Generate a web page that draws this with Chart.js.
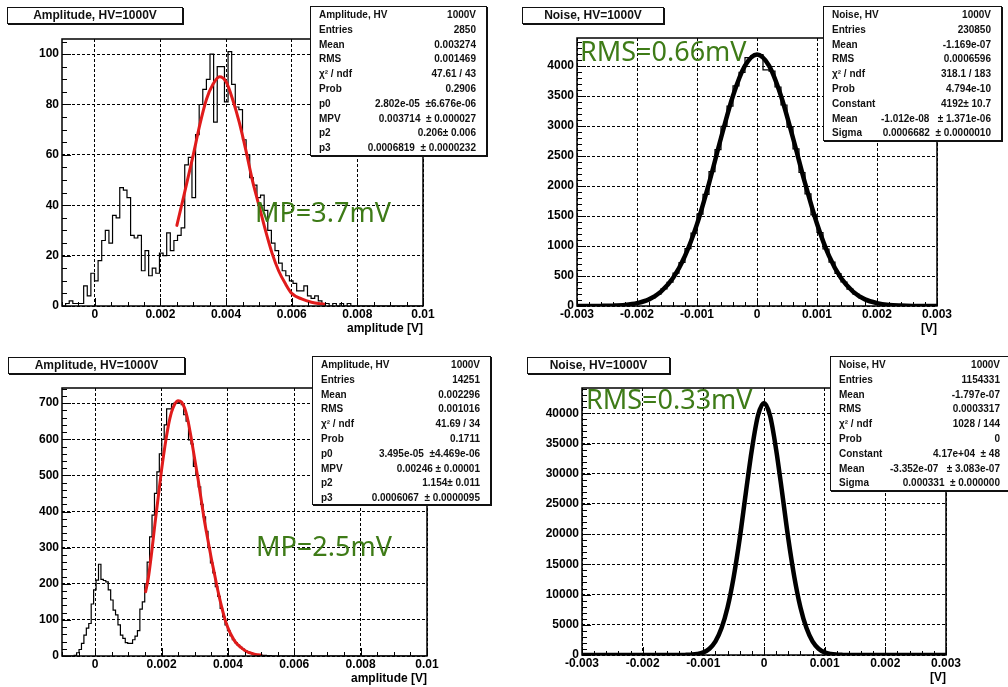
<!DOCTYPE html>
<html>
<head>
<meta charset="utf-8">
<title>Amplitude and noise spectra, HV=1000V</title>
<script src="https://cdn.jsdelivr.net/npm/chart.js@4.4.1/dist/chart.umd.min.js"></script>
<style>
  html, body { margin: 0; padding: 0; background: #fff; }
  #page { position: relative; width: 1008px; height: 687px; overflow: hidden; background: #fff; }
  canvas.panel { position: absolute; }
  .title {
    position: absolute; box-sizing: border-box; background: #fff;
    border: 1px solid #111; box-shadow: 1px 1px 0 #111;
    font: bold 12px "Liberation Sans", Arial, sans-serif; color: #111;
    text-align: center; line-height: 14px;
  }
  .stats {
    position: absolute; box-sizing: border-box; background: #fff;
    border: 1px solid #111; box-shadow: 1px 1px 0 #111;
    font: bold 10px "Liberation Sans", Arial, sans-serif; color: #111;
    padding: 1px 10px 0 8px;
  }
  .stats .row { display: flex; justify-content: space-between; height: 14.8px; line-height: 14.8px; white-space: pre; }
</style>
</head>
<body>
<div id="page"></div>
<script>
// ---------- amplitude spectrum, first run (100 bins from -0.001 to 0.01 V) ----------
const ampTopRange = [-0.001, 0.01];
const ampTopCounts = [
  0, 1, 2, 1, 1, 1, 8, 4, 13, 10,
  18, 26, 30, 25, 36, 35, 47, 46, 43, 28,
  27, 28, 14, 22, 12, 15, 13, 21, 20, 29,
  22, 26, 28, 31, 56, 59, 43, 68, 80, 86,
  90, 100, 73, 95, 95, 81, 101, 88, 79, 78,
  66, 60, 51, 48, 43, 44, 38, 30, 25, 22,
  17, 14, 12, 10, 9, 6, 6, 8, 4, 3,
  4, 2, 1, 1, 0, 1, 0, 1, 0, 1,
  0, 0, 0, 0, 0, 0, 0, 0, 0, 0,
  0, 0, 0, 0, 0, 0, 0, 0, 0, 0
];
const ampTopFitX = [0.0025, 0.0027, 0.0030, 0.0032, 0.0034, 0.0036, 0.0038, 0.0040, 0.0042, 0.0044, 0.0046,
                    0.0048, 0.0050, 0.0052, 0.0054, 0.0056, 0.0058, 0.0060, 0.0063, 0.0066, 0.0070];
const ampTopFitY = [32, 43, 60, 72, 82, 88, 91, 89, 82, 73, 62,
                    50, 40, 30, 21, 14, 9, 5, 2.8, 1.5, 0.7];

// ---------- amplitude spectrum, second run (150 bins from -0.001 to 0.01 V) ----------
const ampBotRange = [-0.001, 0.01];
const ampBotCounts = [
  0, 0, 0, 0, 0, 2, 9, 18, 35, 58,
  77, 90, 144, 183, 210, 254, 212, 209, 205, 183,
  155, 127, 114, 86, 58, 49, 37, 35, 35, 45,
  55, 70, 130, 150, 200, 260, 330, 390, 450, 510,
  560, 600, 640, 684, 684, 698, 700, 700, 702, 696,
  668, 650, 598, 587, 525, 500, 468, 420, 385, 345,
  300, 258, 230, 192, 165, 132, 108, 86, 70, 56,
  45, 37, 30, 24, 19, 15, 11, 8, 6, 4,
  3, 3, 2, 2, 1, 1, 0, 0, 0, 0,
  0, 0, 0, 0, 0, 0, 0, 0, 0, 0,
  0, 0, 0, 0, 0, 0, 0, 0, 0, 0,
  0, 0, 0, 0, 0, 0, 0, 0, 0, 0,
  0, 0, 0, 0, 0, 0, 0, 0, 0, 0,
  0, 0, 0, 0, 0, 0, 0, 0, 0, 0,
  0, 0, 0, 0, 0, 0, 0, 0, 0, 0
];
const ampBotFitX = [0.00152, 0.0016, 0.0017, 0.0018, 0.0019, 0.0020, 0.0021, 0.0022, 0.0023, 0.0024, 0.0025,
                    0.0026, 0.0027, 0.0028, 0.0029, 0.0030, 0.0031, 0.0032, 0.0033, 0.0034, 0.0035,
                    0.0036, 0.0037, 0.0038, 0.0039, 0.0040, 0.0041, 0.0042, 0.0043, 0.0044, 0.0045,
                    0.0046, 0.0047, 0.0048, 0.0049, 0.0050];
const ampBotFitY = [178, 215, 285, 365, 440, 515, 580, 635, 675, 698, 707,
                    703, 685, 650, 600, 545, 490, 430, 370, 320, 270,
                    225, 180, 140, 105, 78, 58, 42, 31, 23, 16,
                    11, 8, 5, 3.5, 2.5];

// ---------- noise spectrum, first run (60 bins from -0.003 to 0.003 V) ----------
const noiseTopRange = [-0.003, 0.003];
const noiseTopCounts = [
  0, 0, 1, 1, 3, 5, 8, 14, 24, 37,
  60, 90, 137, 196, 286, 396, 548, 725, 957, 1215,
  1530, 1862, 2240, 2605, 2995, 3330, 3670, 3895, 4140, 4175,
  4190, 3935, 3915, 3650, 3350, 2980, 2620, 2225, 1870, 1520,
  1225, 950, 730, 542, 400, 282, 199, 135, 92, 58,
  38, 23, 14, 8, 5, 2, 1, 1, 0, 0
];
const noiseTopFitX = [-0.003, -0.0028, -0.0026, -0.0024, -0.0022, -0.002, -0.0018, -0.0016, -0.0014, -0.0012, -0.001,
                      -0.0008, -0.0006, -0.0004, -0.0002, 0, 0.0002, 0.0004, 0.0006, 0.0008, 0.001,
                      0.0012, 0.0014, 0.0016, 0.0018, 0.002, 0.0022, 0.0024, 0.0026, 0.0028, 0.003];
const noiseTopFitY = [0, 1, 2, 6, 18, 47, 110, 240, 465, 835, 1365,
                      2045, 2800, 3505, 4005, 4192, 4005, 3500, 2800, 2050, 1370,
                      835, 465, 240, 110, 48, 18, 7, 2, 1, 0];

// ---------- noise spectrum, second run ----------
const noiseBotFitX = [-0.003, -0.0016, -0.0014, -0.0013, -0.0012, -0.0011, -0.001, -0.0009, -0.0008, -0.0007, -0.0006,
                      -0.0005, -0.0004, -0.0003, -0.0002, -0.0001, 0, 0.0001, 0.0002, 0.0003, 0.0004,
                      0.0005, 0.0006, 0.0007, 0.0008, 0.0009, 0.001, 0.0011, 0.0012, 0.0013, 0.0014,
                      0.0016, 0.003];
const noiseBotFitY = [0, 0, 5, 19, 58, 165, 430, 1040, 2250, 4450, 7900,
                      12900, 19300, 26800, 34000, 39600, 41700, 39600, 34000, 26800, 19300,
                      12900, 7900, 4450, 2250, 1040, 430, 165, 58, 19, 5,
                      0, 0];

// ---------- axis ticks and labels ----------
const ampXTicks = [0, 0.002, 0.004, 0.006, 0.008, 0.01];
const ampXLabels = ['0', '0.002', '0.004', '0.006', '0.008', '0.01'];
const noiseXTicks = [-0.003, -0.002, -0.001, 0, 0.001, 0.002, 0.003];
const noiseXLabels = ['-0.003', '-0.002', '-0.001', '0', '0.001', '0.002', '0.003'];
const ampTopYTicks = [0, 20, 40, 60, 80, 100];
const ampBotYTicks = [0, 100, 200, 300, 400, 500, 600, 700];
const noiseTopYTicks = [0, 500, 1000, 1500, 2000, 2500, 3000, 3500, 4000];
const noiseBotYTicks = [0, 5000, 10000, 15000, 20000, 25000, 30000, 35000, 40000];

// ---------- titles, annotations and statistics boxes ----------
const ampTitle = 'Amplitude, HV=1000V';
const noiseTitle = 'Noise, HV=1000V';
const ampXTitle = 'amplitude [V]';
const noiseXTitle = '[V]';
const annotations = ['MP=3.7mV', 'RMS=0.66mV', 'MP=2.5mV', 'RMS=0.33mV'];

const statsAmpTop = [
  ['Amplitude, HV', '1000V'], ['Entries', '2850'], ['Mean', '0.003274'], ['RMS', '0.001469'],
  ['\u03c7\u00b2 / ndf', '47.61 / 43'], ['Prob', '0.2906'], ['p0', '2.802e-05  \u00b16.676e-06'],
  ['MPV', '0.003714  \u00b1 0.000027'], ['p2', '0.206\u00b1 0.006'], ['p3', '0.0006819  \u00b1 0.0000232']
];
const statsNoiseTop = [
  ['Noise, HV', '1000V'], ['Entries', '230850'], ['Mean', '-1.169e-07'], ['RMS', '0.0006596'],
  ['\u03c7\u00b2 / ndf', '318.1 / 183'], ['Prob', '4.794e-10'], ['Constant', '4192\u00b1 10.7'],
  ['Mean', '-1.012e-08   \u00b1 1.371e-06'], ['Sigma', '0.0006682  \u00b1 0.0000010']
];
const statsAmpBot = [
  ['Amplitude, HV', '1000V'], ['Entries', '14251'], ['Mean', '0.002296'], ['RMS', '0.001016'],
  ['\u03c7\u00b2 / ndf', '41.69 / 34'], ['Prob', '0.1711'], ['p0', '3.495e-05  \u00b14.469e-06'],
  ['MPV', '0.00246 \u00b1 0.00001'], ['p2', '1.154\u00b1 0.011'], ['p3', '0.0006067  \u00b1 0.0000095']
];
const statsNoiseBot = [
  ['Noise, HV', '1000V'], ['Entries', '1154331'], ['Mean', '-1.797e-07'], ['RMS', '0.0003317'],
  ['\u03c7\u00b2 / ndf', '1028 / 144'], ['Prob', '0'], ['Constant', '4.17e+04  \u00b1 48'],
  ['Mean', '-3.352e-07   \u00b1 3.083e-07'], ['Sigma', '0.000331  \u00b1 0.000000']
];

// ---------- helpers ----------
const page = document.getElementById('page');
const TICK_FONT = { family: '"Liberation Sans", Arial, sans-serif', size: 12, weight: 'bold' };
const XAXIS_H = 30;

// outline of a fixed-width-bin histogram
function histOutline(counts, range) {
  const w = (range[1] - range[0]) / counts.length;
  const pts = [];
  counts.forEach((c, i) => {
    pts.push({ x: range[0] + i * w, y: c });
    pts.push({ x: range[0] + (i + 1) * w, y: c });
  });
  return pts;
}
function zip(xs, ys) { return xs.map((x, i) => ({ x: x, y: ys[i] })); }

function histDataset(points) {
  return { data: points, borderColor: '#000', borderWidth: 1.2, pointRadius: 0, tension: 0, fill: false };
}
function fitDataset(points, color, width) {
  return { data: points, borderColor: color, borderWidth: width, pointRadius: 0,
           cubicInterpolationMode: 'monotone', fill: false, borderCapStyle: 'round', borderJoinStyle: 'round' };
}

// frame, inner tick marks and the green annotation, drawn over the datasets
const rootFrame = {
  id: 'rootFrame',
  afterDatasetsDraw(chart, args, o) {
    const { ctx, chartArea: a, scales: { x, y } } = chart;
    ctx.save();
    ctx.strokeStyle = '#000';
    ctx.lineWidth = 1;
    ctx.beginPath();
    const isMajor = (list, v, step) => list.some(t => Math.abs(t - v) < step * 1e-3);
    const nx = Math.round((x.max - o.xStart) / o.xMinor);
    for (let k = 0; k <= nx; k++) {
      const v = o.xStart + k * o.xMinor;
      const px = Math.round(x.getPixelForValue(v)) + 0.5;
      const len = isMajor(o.xTicks, v, o.xMinor) ? 8 : 4;
      ctx.moveTo(px, a.bottom);
      ctx.lineTo(px, a.bottom - len);
    }
    const ny = Math.floor((y.max - 0) / o.yMinor + 1e-6);
    for (let k = 0; k <= ny; k++) {
      const v = k * o.yMinor;
      const py = Math.round(y.getPixelForValue(v)) + 0.5;
      const len = isMajor(o.yTicks, v, o.yMinor) ? 9 : 5;
      ctx.moveTo(a.left, py);
      ctx.lineTo(a.left + len, py);
    }
    ctx.stroke();
    ctx.lineWidth = 1.5;
    ctx.strokeRect(a.left, a.top, a.right - a.left, a.bottom - a.top);
    ctx.restore();
  },
  afterDraw(chart, args, o) {
    const ctx = chart.ctx;
    ctx.save();
    ctx.font = '27px "Noto Sans", "Open Sans", sans-serif';
    ctx.fillStyle = '#3e7b17';
    ctx.textBaseline = 'alphabetic';
    ctx.textAlign = 'left';
    ctx.fillText(o.note, o.noteX, o.noteY);
    ctx.restore();
  }
};

function makePanel(p) {
  const canvas = document.createElement('canvas');
  canvas.className = 'panel';
  canvas.width = p.cw; canvas.height = p.ch;
  canvas.style.left = p.cx + 'px'; canvas.style.top = p.cy + 'px';
  canvas.style.width = p.cw + 'px'; canvas.style.height = p.ch + 'px';
  page.appendChild(canvas);

  new Chart(canvas, {
    type: 'line',
    data: { datasets: p.datasets },
    options: {
      responsive: false, animation: false, devicePixelRatio: 1, events: [],
      layout: { padding: {
        left: 0,
        top: p.area.top - p.cy,
        right: p.cx + p.cw - p.area.right,
        bottom: p.cy + p.ch - p.area.bottom - XAXIS_H
      } },
      plugins: {
        legend: { display: false }, tooltip: { enabled: false },
        rootFrame: {
          xStart: p.xRange[0], xMinor: p.xMinor, xTicks: p.xTicks,
          yMinor: p.yMinor, yTicks: p.yTicks,
          note: p.note, noteX: p.noteAt[0] - p.cx, noteY: p.noteAt[1] - p.cy
        }
      },
      scales: {
        x: {
          type: 'linear', min: p.xRange[0], max: p.xRange[1],
          afterBuildTicks: s => { s.ticks = p.xTicks.map(v => ({ value: v })); },
          afterFit: s => { s.height = XAXIS_H; },
          ticks: { callback: (v, i) => p.xLabels[i], font: TICK_FONT, color: '#000', padding: 1,
                   maxRotation: 0, autoSkip: false },
          grid: { color: '#000', lineWidth: 1, drawTicks: false },
          border: { display: false, dash: [3, 2] },
          title: { display: true, text: p.xTitle, align: 'end', font: TICK_FONT, color: '#000',
                   padding: { top: 0, bottom: 0 } }
        },
        y: {
          type: 'linear', min: 0, max: p.yMax,
          afterBuildTicks: s => { s.ticks = p.yTicks.map(v => ({ value: v })); },
          afterFit: s => { s.width = p.area.left - p.cx; },
          ticks: { callback: v => String(v), font: TICK_FONT, color: '#000', padding: 3, autoSkip: false },
          grid: { color: '#000', lineWidth: 1, drawTicks: false },
          border: { display: false, dash: [3, 2] }
        }
      }
    },
    plugins: [rootFrame]
  });

  const t = document.createElement('div');
  t.className = 'title';
  t.textContent = p.title;
  Object.assign(t.style, { left: p.titleBox[0] + 'px', top: p.titleBox[1] + 'px',
                           width: p.titleBox[2] + 'px', height: p.titleBox[3] + 'px' });
  page.appendChild(t);

  const s = document.createElement('div');
  s.className = 'stats';
  Object.assign(s.style, { left: p.statsBox[0] + 'px', top: p.statsBox[1] + 'px',
                           width: p.statsBox[2] + 'px', height: p.statsBox[3] + 'px' });
  p.stats.forEach(r => {
    const row = document.createElement('div');
    row.className = 'row';
    const l = document.createElement('span'); l.textContent = r[0];
    const v = document.createElement('span'); v.textContent = r[1];
    row.appendChild(l); row.appendChild(v);
    s.appendChild(row);
  });
  page.appendChild(s);
}

makePanel({
  cx: 0, cy: 0, cw: 500, ch: 338, area: { left: 62, top: 39, right: 423, bottom: 306 },
  xRange: ampTopRange, xTicks: ampXTicks, xLabels: ampXLabels, xMinor: 0.0005, xTitle: ampXTitle,
  yMax: 106, yTicks: ampTopYTicks, yMinor: 5,
  datasets: [fitDataset(zip(ampTopFitX, ampTopFitY), '#e01b1b', 3), histDataset(histOutline(ampTopCounts, ampTopRange))],
  title: ampTitle, titleBox: [7, 7, 176, 17],
  stats: statsAmpTop, statsBox: [310, 6, 177, 150],
  note: annotations[0], noteAt: [255, 222]
});

makePanel({
  cx: 500, cy: 0, cw: 508, ch: 338, area: { left: 577, top: 38, right: 937, bottom: 306 },
  xRange: noiseTopRange, xTicks: noiseXTicks, xLabels: noiseXLabels, xMinor: 0.0002, xTitle: noiseXTitle,
  yMax: 4467, yTicks: noiseTopYTicks, yMinor: 100,
  datasets: [fitDataset(zip(noiseTopFitX, noiseTopFitY), '#000', 4.5), histDataset(histOutline(noiseTopCounts, noiseTopRange))],
  title: noiseTitle, titleBox: [522, 7, 142, 17],
  stats: statsNoiseTop, statsBox: [823, 6, 179, 135],
  note: annotations[1], noteAt: [580, 61]
});

makePanel({
  cx: 0, cy: 340, cw: 500, ch: 347, area: { left: 62, top: 388, right: 427, bottom: 656 },
  xRange: ampBotRange, xTicks: ampXTicks, xLabels: ampXLabels, xMinor: 0.0005, xTitle: ampXTitle,
  yMax: 742, yTicks: ampBotYTicks, yMinor: 20,
  datasets: [fitDataset(zip(ampBotFitX, ampBotFitY), '#e01b1b', 3), histDataset(histOutline(ampBotCounts, ampBotRange))],
  title: ampTitle, titleBox: [8, 357, 177, 17],
  stats: statsAmpBot, statsBox: [312, 356, 179, 149],
  note: annotations[2], noteAt: [256, 556]
});

makePanel({
  cx: 500, cy: 340, cw: 508, ch: 347, area: { left: 582, top: 388, right: 946, bottom: 655 },
  xRange: noiseTopRange, xTicks: noiseXTicks, xLabels: noiseXLabels, xMinor: 0.0002, xTitle: noiseXTitle,
  yMax: 44190, yTicks: noiseBotYTicks, yMinor: 1000,
  datasets: [fitDataset(zip(noiseBotFitX, noiseBotFitY), '#000', 4.5)],
  title: noiseTitle, titleBox: [527, 357, 143, 17],
  stats: statsNoiseBot, statsBox: [830, 356, 181, 135],
  note: annotations[3], noteAt: [586, 409]
});
</script>
</body>
</html>
